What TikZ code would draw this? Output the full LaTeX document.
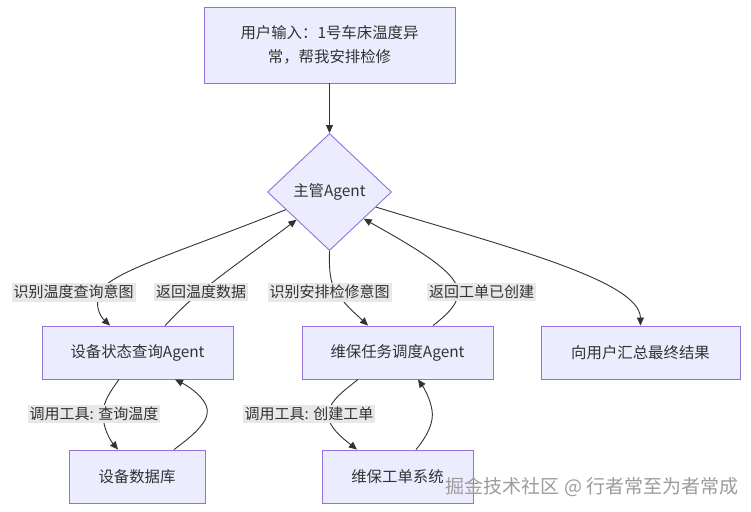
\documentclass[tikz,border=0pt]{standalone}
\usepackage{fontspec}
\setmainfont{Noto Sans CJK SC}
\usetikzlibrary{shapes.geometric,arrows.meta}
\definecolor{nodefill}{HTML}{ECECFF}
\definecolor{nodeline}{HTML}{9370DB}
\definecolor{edgecol}{HTML}{333333}
\definecolor{lblfill}{HTML}{E8E8E8}
\definecolor{txt}{HTML}{333333}
\definecolor{wm}{HTML}{9C9C9C}
\begin{document}
\begin{tikzpicture}[x=1pt,y=-1pt,
  box/.style={draw=nodeline,fill=nodefill,line width=0.9pt,inner sep=0pt,text=txt,font=\fontsize{15.4}{24}\selectfont,align=center,minimum height=53pt},
  dia/.style={diamond,draw=nodeline,fill=nodefill,line width=0.9pt,inner sep=0pt,minimum width=124pt,minimum height=117pt,text=txt,font=\fontsize{15.4}{18}\selectfont},
  lbl/.style={fill=lblfill,text=txt,inner xsep=2pt,inner ysep=2.5pt,font=\fontsize{15}{18}\selectfont},
  edge/.style={draw=edgecol,line width=0.9pt,-{Triangle[length=8pt,width=7pt]}}]
\fill[white] (0,0) rectangle (751,511);
\useasboundingbox (0,0) rectangle (751,511);
% nodes
\node[box,minimum width=251pt,minimum height=76pt] (top) at (329.5,45) {用户输入：1号车床温度异\\常，帮我安排检修};
\node[dia] (sup) at (329.5,192) {主管Agent};
\node[box,minimum width=191pt] (devA) at (137.5,352.5) {设备状态查询Agent};
\node[box,minimum width=191pt] (mtA) at (397.5,352.5) {维保任务调度Agent};
\node[box,minimum width=199pt] (res) at (640.5,352.5) {向用户汇总最终结果};
\node[box,minimum width=136pt] (devDB) at (137,476.5) {设备数据库};
\node[box,minimum width=151pt] (mtDB) at (397.5,476.5) {维保工单系统};
% via points
\coordinate (p1) at (100,292);
\coordinate (p2) at (203,290);
\coordinate (p3) at (336,292);
\coordinate (p4) at (458,290);
\coordinate (p5) at (103,414);
\coordinate (p6) at (206,405);
\coordinate (p7) at (328,414);
\coordinate (p8) at (432,410);
% edges
\draw[edge] (top.south) -- (sup.north);
\draw[edge] (sup.202) .. controls (180,252) and (110,272) .. (p1) .. controls (94,305) and (100,316) .. ([xshift=-27.5pt]devA.north);
\draw[edge] ([xshift=27.5pt]devA.north) .. controls (178,312) and (190,300) .. (p2) .. controls (230,268) and (270,240) .. (sup.220);
\draw[edge] (sup.south) .. controls (329,270) and (330,282) .. (p3) .. controls (345,305) and (358,316) .. ([xshift=-29.5pt]mtA.north);
\draw[edge] ([xshift=35.5pt]mtA.north) .. controls (448,314) and (460,302) .. (p4) .. controls (455,270) and (410,245) .. (sup.322);
\draw[edge] (sup.342) .. controls (500,245) and (640,280) .. (res.north);
\draw[edge] ([xshift=-18.5pt]devA.south) .. controls (110,392) and (103,402) .. (p5) .. controls (103,428) and (110,440) .. ([xshift=-19pt]devDB.north);
\draw[edge] ([xshift=37pt]devDB.north) .. controls (198,432) and (212,418) .. (p6) .. controls (200,393) and (186,385) .. ([xshift=37.5pt]devA.south);
\draw[edge] ([xshift=-39.5pt]mtA.south) .. controls (345,390) and (330,400) .. (p7) .. controls (328,428) and (345,440) .. ([xshift=-40.5pt]mtDB.north);
\draw[edge] ([xshift=18.5pt]mtDB.north) .. controls (428,435) and (434,422) .. (p8) .. controls (430,398) and (424,388) .. ([xshift=20.5pt]mtA.south);
% labels
\node[lbl] (l1) at (73.5,292) {识别温度查询意图};
\node[lbl] (l2) at (201,292) {返回温度数据};
\node[lbl] (l3) at (329.5,292) {识别安排检修意图};
\node[lbl] (l4) at (481.5,292) {返回工单已创建};
\node[lbl] (l5) at (94,414) {调用工具: 查询温度};
\node[lbl] (l6) at (309,414) {调用工具: 创建工单};
% watermark
\node[font=\fontsize{19}{19}\selectfont,text=wm,inner sep=0pt] (wmk) at (592,487) {掘金技术社区 @ 行者常至为者常成};
\end{tikzpicture}
\end{document}
